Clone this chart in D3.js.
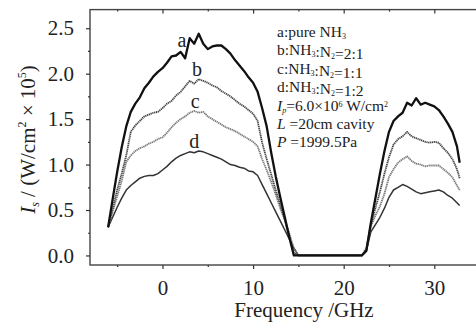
<!DOCTYPE html>
<html><head><meta charset="utf-8">
<script src="https://cdn.jsdelivr.net/npm/d3@7/dist/d3.min.js"></script>
<style>body{margin:0;background:#fff;}svg{display:block;} svg text{font-family:"Liberation Serif","Times New Roman",Tinos,Times,"DejaVu Serif",serif !important;}</style>
</head><body>
<svg id="c" width="476" height="328"></svg>
<script>
// ---- data ----
const freq = [-6,-5.5,-5,-4.5,-4,-3.5,-3,-2.5,-2,-1.5,-1,-0.5,0,0.5,1,1.5,2,2.5,3,3.5,4,4.5,5,5.5,6,6.5,7,7.5,8,8.5,9,9.5,10,10.5,11,11.5,12,12.5,13,13.5,14,14.5,
  15,16,17,18,19,20,21,22,
  22.5,23,23.5,24,24.5,25,25.5,26,26.5,27,27.5,28,28.5,29,29.5,30,30.5,31,31.5,32,32.5,32.8];
const seriesA = [0.31,0.62,0.92,1.19,1.42,1.58,1.67,1.74,1.84,1.90,1.97,2.02,2.06,2.12,2.19,2.20,2.24,2.17,2.39,2.33,2.44,2.33,2.27,2.30,2.31,2.31,2.27,2.22,2.15,2.09,2.03,1.96,1.90,1.80,1.62,1.42,1.13,0.87,0.64,0.42,0.20,0.00,
  0,0,0,0,0,0,0,0,
  0.05,0.36,0.63,0.90,1.15,1.36,1.48,1.53,1.57,1.68,1.65,1.73,1.66,1.68,1.66,1.64,1.60,1.53,1.45,1.36,1.20,1.02];
const seriesB = [0.31,0.52,0.72,0.90,1.10,1.36,1.43,1.48,1.53,1.55,1.57,1.58,1.62,1.67,1.70,1.76,1.80,1.86,1.92,1.89,1.94,1.92,1.90,1.87,1.85,1.81,1.78,1.75,1.71,1.67,1.64,1.60,1.56,1.48,1.24,1.06,0.89,0.72,0.56,0.39,0.20,0.03,
  0,0,0,0,0,0,0,0,
  0.08,0.34,0.52,0.70,0.90,1.08,1.22,1.28,1.31,1.36,1.31,1.29,1.27,1.25,1.24,1.25,1.24,1.18,1.13,1.06,0.95,0.85];
const seriesC = [0.31,0.48,0.65,0.82,1.03,1.10,1.15,1.18,1.20,1.23,1.25,1.28,1.30,1.35,1.41,1.46,1.50,1.53,1.57,1.59,1.57,1.58,1.53,1.50,1.47,1.44,1.41,1.39,1.37,1.34,1.31,1.28,1.25,1.20,1.06,0.94,0.81,0.67,0.52,0.39,0.24,0.08,
  0,0,0,0,0,0,0,0,
  0.06,0.32,0.44,0.54,0.68,0.86,0.95,1.02,1.06,1.09,1.04,1.01,1.00,0.98,0.99,0.99,0.99,0.95,0.91,0.86,0.77,0.72];
const seriesD = [0.31,0.42,0.53,0.63,0.72,0.77,0.81,0.85,0.87,0.88,0.88,0.90,0.94,0.98,1.03,1.07,1.10,1.12,1.14,1.13,1.15,1.14,1.12,1.10,1.08,1.06,1.03,1.00,0.99,0.97,0.96,0.93,0.92,0.88,0.78,0.68,0.58,0.48,0.38,0.28,0.18,0.08,
  0,0,0,0,0,0,0,0,
  0.05,0.26,0.34,0.42,0.52,0.64,0.72,0.75,0.78,0.76,0.73,0.70,0.68,0.69,0.70,0.71,0.72,0.70,0.66,0.63,0.58,0.55];
const xTicks = [0,10,20,30];
const xMinor = [-5,5,15,25,35];
const yTicks = [0.0,0.5,1.0,1.5,2.0,2.5];
const yMinor = [0.25,0.75,1.25,1.75,2.25];
const curveLabels = [{t:"a",x:2.15,y:2.36},{t:"b",x:3.8,y:2.04},{t:"c",x:3.6,y:1.69},{t:"d",x:3.5,y:1.25}];

// ---- layout ----
const svg = d3.select("#c");
const L = 90, R = 479.6, T = 9.6, B = 265;
const x = d3.scaleLinear().domain([-8,35]).range([L,R]);
const y = d3.scaleLinear().domain([-0.105,2.705]).range([B,T]);
const ink = "#222";

svg.append("rect").attr("x",L).attr("y",T).attr("width",R-L).attr("height",B-T)
  .attr("fill","none").attr("stroke","#444").attr("stroke-width",1.4);

const fmt = d3.format(".1f");
const gy = svg.append("g").attr("transform",`translate(${L},0)`)
  .call(d3.axisLeft(y).tickValues(yTicks).tickFormat(fmt).tickSize(4).tickPadding(12));
const gyMin = svg.append("g").attr("transform",`translate(${L},0)`)
  .call(d3.axisLeft(y).tickValues(yMinor).tickFormat("").tickSize(2));
const gx = svg.append("g").attr("transform",`translate(0,${B})`)
  .call(d3.axisBottom(x).tickValues(xTicks).tickFormat(d3.format("d")).tickSize(4).tickPadding(11));
const gxMin = svg.append("g").attr("transform",`translate(0,${B})`)
  .call(d3.axisBottom(x).tickValues(xMinor).tickFormat("").tickSize(2));
const gxTop = svg.append("g").attr("transform",`translate(0,${T})`)
  .call(d3.axisBottom(x).tickValues(xTicks).tickFormat("").tickSize(4));
const gxTopMin = svg.append("g").attr("transform",`translate(0,${T})`)
  .call(d3.axisBottom(x).tickValues(xMinor).tickFormat("").tickSize(2));
[gy,gyMin,gx,gxMin,gxTop,gxTopMin].forEach(g=>{
  g.select(".domain").remove();
  g.attr("font-family",null);
  g.selectAll("line").attr("stroke","#333").attr("stroke-width",1.2);
  g.selectAll("text").attr("fill",ink).style("font-size","21px");
});

const line = d3.line().x((d,i)=>x(freq[i])).y(d=>y(d));
const styles = [
  {data:seriesA, stroke:"#111", w:2.3, dash:null},
  {data:seriesB, stroke:"#444", w:1.8, dash:"1.3,0.6"},
  {data:seriesC, stroke:"#777", w:1.8, dash:"1.3,0.6"},
  {data:seriesD, stroke:"#333", w:1.5, dash:null}
];
styles.slice().reverse().forEach(s=>{
  svg.append("path").datum(s.data).attr("d",line).attr("fill","none")
    .attr("stroke",s.stroke).attr("stroke-width",s.w).attr("stroke-linejoin","round")
    .attr("stroke-dasharray",s.dash);
});

svg.selectAll("text.cl").data(curveLabels).enter().append("text").attr("class","cl")
  .attr("x",d=>x(d.x)).attr("y",d=>y(d.y)+6).attr("text-anchor","middle")
  .attr("fill",ink).style("font-size","20px").text(d=>d.t);

const lg = svg.append("g").attr("fill",ink).style("font-size","15.5px");
const lx = 277, ly0 = 37, dy = 18.4;
function row(i){ return lg.append("text").attr("x",lx).attr("y",ly0+i*dy); }
function sub(t,s){ t.append("tspan").attr("dy",2).style("font-size","8px").text(s); t.append("tspan").attr("dy",-2).text(""); }
let t;
t = row(0); t.append("tspan").text("a:pure NH"); sub(t,"3");
t = row(1); t.append("tspan").text("b:NH"); sub(t,"3"); t.append("tspan").text(":N"); sub(t,"2"); t.append("tspan").text("=2:1");
t = row(2); t.append("tspan").text("c:NH"); sub(t,"3"); t.append("tspan").text(":N"); sub(t,"2"); t.append("tspan").text("=1:1");
t = row(3); t.append("tspan").text("d:NH"); sub(t,"3"); t.append("tspan").text(":N"); sub(t,"2"); t.append("tspan").text("=1:2");
t = row(4); t.append("tspan").style("font-style","italic").text("I");
t.append("tspan").attr("dy",2).style("font-size","8px").style("font-style","italic").text("p");
t.append("tspan").attr("dy",-2).text("=6.0×10");
t.append("tspan").attr("dy",-4).style("font-size","8px").text("6");
t.append("tspan").attr("dy",4).text(" W/cm");
t.append("tspan").attr("dy",-4).style("font-size","8px").text("2");
t = row(5); t.append("tspan").style("font-style","italic").text("L"); t.append("tspan").text(" =20cm cavity");
t = row(6); t.append("tspan").style("font-style","italic").text("P"); t.append("tspan").text(" =1999.5Pa");

svg.append("text").attr("x",304).attr("y",317).attr("text-anchor","middle")
  .attr("fill",ink).style("font-size","21px").text("Frequency /GHz");
const yt = svg.append("text").attr("transform",`translate(35,${(62+217)/2}) rotate(-90)`)
  .attr("text-anchor","middle").attr("fill",ink).style("font-size","21px");
yt.append("tspan").style("font-style","italic").text("I");
yt.append("tspan").attr("dy",4).style("font-size","12px").style("font-style","italic").text("s");
yt.append("tspan").attr("dy",-4).text(" / (W/cm");
yt.append("tspan").attr("dy",-9).style("font-size","12px").text("2");
yt.append("tspan").attr("dy",9).text(" × 10");
yt.append("tspan").attr("dy",-9).style("font-size","12px").text("5");
yt.append("tspan").attr("dy",9).text(")");
</script>
</body></html>
